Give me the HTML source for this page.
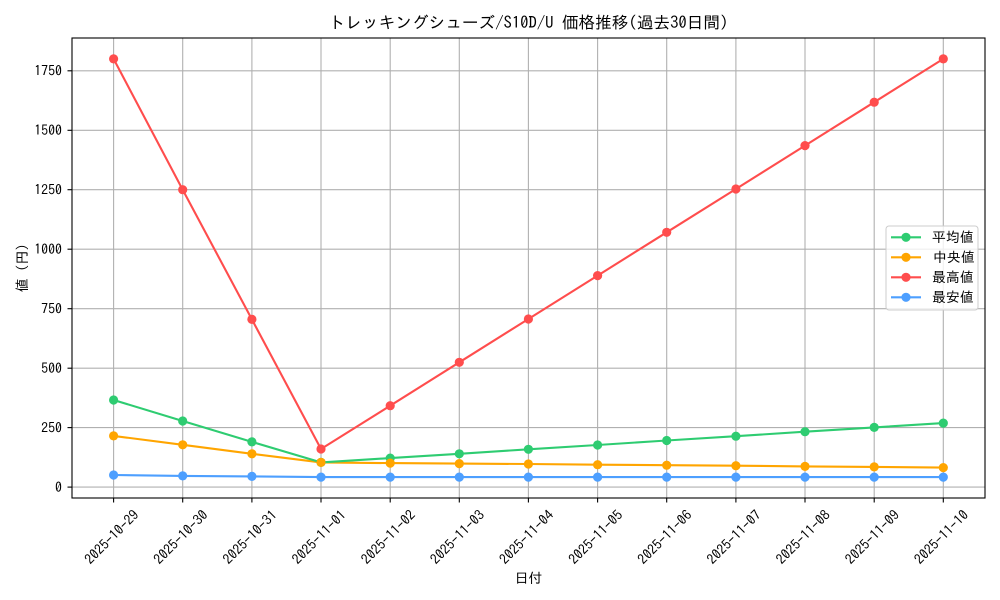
<!DOCTYPE html>
<html><head><meta charset="utf-8"><style>
html,body{margin:0;padding:0;background:#fff;}
svg{display:block;}
text{font-family:"IPAGothic","Liberation Sans","Noto Sans CJK JP",sans-serif;fill:#000;}
</style></head><body>
<svg width="1000" height="600" viewBox="0 0 1000 600" xmlns="http://www.w3.org/2000/svg">
<rect width="1000" height="600" fill="#fff"/>
<!-- grid -->
<g stroke="#b0b0b0" stroke-width="1.1">
<line x1="72" y1="487.1" x2="985" y2="487.1"/>
<line x1="72" y1="427.6" x2="985" y2="427.6"/>
<line x1="72" y1="368.2" x2="985" y2="368.2"/>
<line x1="72" y1="308.7" x2="985" y2="308.7"/>
<line x1="72" y1="249.2" x2="985" y2="249.2"/>
<line x1="72" y1="189.7" x2="985" y2="189.7"/>
<line x1="72" y1="130.3" x2="985" y2="130.3"/>
<line x1="72" y1="70.8" x2="985" y2="70.8"/>
<line x1="113.6" y1="38" x2="113.6" y2="498"/>
<line x1="182.7" y1="38" x2="182.7" y2="498"/>
<line x1="251.9" y1="38" x2="251.9" y2="498"/>
<line x1="321.0" y1="38" x2="321.0" y2="498"/>
<line x1="390.2" y1="38" x2="390.2" y2="498"/>
<line x1="459.3" y1="38" x2="459.3" y2="498"/>
<line x1="528.4" y1="38" x2="528.4" y2="498"/>
<line x1="597.6" y1="38" x2="597.6" y2="498"/>
<line x1="666.7" y1="38" x2="666.7" y2="498"/>
<line x1="735.9" y1="38" x2="735.9" y2="498"/>
<line x1="805.0" y1="38" x2="805.0" y2="498"/>
<line x1="874.2" y1="38" x2="874.2" y2="498"/>
<line x1="943.3" y1="38" x2="943.3" y2="498"/>
</g>
<!-- series -->
<g fill="none" stroke-width="2.1" stroke-linejoin="round">
<polyline stroke="#4d9fff" points="113.6,475.0 182.7,475.9 251.9,476.4 321.0,477.1 390.2,477.1 459.3,477.1 528.4,477.1 597.6,477.1 666.7,477.1 735.9,477.1 805.0,477.1 874.2,477.1 943.3,477.1"/>
<polyline stroke="#ff4d4d" points="113.6,58.9 182.7,189.7 251.9,319.4 321.0,449.0 390.2,405.7 459.3,362.3 528.4,319.0 597.6,275.6 666.7,232.3 735.9,189.0 805.0,145.6 874.2,102.2 943.3,58.9"/>
<polyline stroke="#ffa500" points="113.6,435.9 182.7,444.8 251.9,453.8 321.0,462.4 390.2,463.1 459.3,463.6 528.4,464.0 597.6,464.7 666.7,465.2 735.9,465.7 805.0,466.4 874.2,466.9 943.3,467.6"/>
<polyline stroke="#2ecc71" points="113.6,400.0 182.7,421.0 251.9,441.9 321.0,462.4 390.2,458.1 459.3,453.8 528.4,449.3 597.6,445.0 666.7,440.5 735.9,436.2 805.0,431.7 874.2,427.4 943.3,423.1"/>
</g>
<g fill="#2ecc71">
<circle cx="113.6" cy="400.0" r="4.6"/><circle cx="182.7" cy="421.0" r="4.6"/><circle cx="251.9" cy="441.9" r="4.6"/><circle cx="321.0" cy="462.4" r="4.6"/><circle cx="390.2" cy="458.1" r="4.6"/><circle cx="459.3" cy="453.8" r="4.6"/><circle cx="528.4" cy="449.3" r="4.6"/><circle cx="597.6" cy="445.0" r="4.6"/><circle cx="666.7" cy="440.5" r="4.6"/><circle cx="735.9" cy="436.2" r="4.6"/><circle cx="805.0" cy="431.7" r="4.6"/><circle cx="874.2" cy="427.4" r="4.6"/><circle cx="943.3" cy="423.1" r="4.6"/>
</g>
<g fill="#ffa500">
<circle cx="113.6" cy="435.9" r="4.6"/><circle cx="182.7" cy="444.8" r="4.6"/><circle cx="251.9" cy="453.8" r="4.6"/><circle cx="321.0" cy="462.4" r="4.6"/><circle cx="390.2" cy="463.1" r="4.6"/><circle cx="459.3" cy="463.6" r="4.6"/><circle cx="528.4" cy="464.0" r="4.6"/><circle cx="597.6" cy="464.7" r="4.6"/><circle cx="666.7" cy="465.2" r="4.6"/><circle cx="735.9" cy="465.7" r="4.6"/><circle cx="805.0" cy="466.4" r="4.6"/><circle cx="874.2" cy="466.9" r="4.6"/><circle cx="943.3" cy="467.6" r="4.6"/>
</g>
<g fill="#ff4d4d">
<circle cx="113.6" cy="58.9" r="4.6"/><circle cx="182.7" cy="189.7" r="4.6"/><circle cx="251.9" cy="319.4" r="4.6"/><circle cx="321.0" cy="449.0" r="4.6"/><circle cx="390.2" cy="405.7" r="4.6"/><circle cx="459.3" cy="362.3" r="4.6"/><circle cx="528.4" cy="319.0" r="4.6"/><circle cx="597.6" cy="275.6" r="4.6"/><circle cx="666.7" cy="232.3" r="4.6"/><circle cx="735.9" cy="189.0" r="4.6"/><circle cx="805.0" cy="145.6" r="4.6"/><circle cx="874.2" cy="102.2" r="4.6"/><circle cx="943.3" cy="58.9" r="4.6"/>
</g>
<g fill="#4d9fff">
<circle cx="113.6" cy="475.0" r="4.6"/><circle cx="182.7" cy="475.9" r="4.6"/><circle cx="251.9" cy="476.4" r="4.6"/><circle cx="321.0" cy="477.1" r="4.6"/><circle cx="390.2" cy="477.1" r="4.6"/><circle cx="459.3" cy="477.1" r="4.6"/><circle cx="528.4" cy="477.1" r="4.6"/><circle cx="597.6" cy="477.1" r="4.6"/><circle cx="666.7" cy="477.1" r="4.6"/><circle cx="735.9" cy="477.1" r="4.6"/><circle cx="805.0" cy="477.1" r="4.6"/><circle cx="874.2" cy="477.1" r="4.6"/><circle cx="943.3" cy="477.1" r="4.6"/>
</g>
<!-- axes frame -->
<rect x="72" y="38" width="913" height="460" fill="none" stroke="#000" stroke-width="1.1"/>
<!-- ticks -->
<g stroke="#000" stroke-width="1.1">
<line x1="67.5" y1="487.1" x2="72" y2="487.1"/>
<line x1="67.5" y1="427.6" x2="72" y2="427.6"/>
<line x1="67.5" y1="368.2" x2="72" y2="368.2"/>
<line x1="67.5" y1="308.7" x2="72" y2="308.7"/>
<line x1="67.5" y1="249.2" x2="72" y2="249.2"/>
<line x1="67.5" y1="189.7" x2="72" y2="189.7"/>
<line x1="67.5" y1="130.3" x2="72" y2="130.3"/>
<line x1="67.5" y1="70.8" x2="72" y2="70.8"/>
<line x1="113.6" y1="498" x2="113.6" y2="502.5"/>
<line x1="182.7" y1="498" x2="182.7" y2="502.5"/>
<line x1="251.9" y1="498" x2="251.9" y2="502.5"/>
<line x1="321.0" y1="498" x2="321.0" y2="502.5"/>
<line x1="390.2" y1="498" x2="390.2" y2="502.5"/>
<line x1="459.3" y1="498" x2="459.3" y2="502.5"/>
<line x1="528.4" y1="498" x2="528.4" y2="502.5"/>
<line x1="597.6" y1="498" x2="597.6" y2="502.5"/>
<line x1="666.7" y1="498" x2="666.7" y2="502.5"/>
<line x1="735.9" y1="498" x2="735.9" y2="502.5"/>
<line x1="805.0" y1="498" x2="805.0" y2="502.5"/>
<line x1="874.2" y1="498" x2="874.2" y2="502.5"/>
<line x1="943.3" y1="498" x2="943.3" y2="502.5"/>
</g>
<!-- y tick labels -->
<g font-size="13.9" text-anchor="end">
<text x="62" y="492">0</text>
<text x="62" y="432.5">250</text>
<text x="62" y="373">500</text>
<text x="62" y="313.6">750</text>
<text x="62" y="254.1">1000</text>
<text x="62" y="194.6">1250</text>
<text x="62" y="135.2">1500</text>
<text x="62" y="75.7">1750</text>
</g>
<!-- x tick labels -->
<g font-size="13.9" text-anchor="middle" dominant-baseline="central">
<text transform="translate(111.6,537) rotate(-45)">2025-10-29</text>
<text transform="translate(180.7,537) rotate(-45)">2025-10-30</text>
<text transform="translate(249.9,537) rotate(-45)">2025-10-31</text>
<text transform="translate(319.0,537) rotate(-45)">2025-11-01</text>
<text transform="translate(388.2,537) rotate(-45)">2025-11-02</text>
<text transform="translate(457.3,537) rotate(-45)">2025-11-03</text>
<text transform="translate(526.4,537) rotate(-45)">2025-11-04</text>
<text transform="translate(595.6,537) rotate(-45)">2025-11-05</text>
<text transform="translate(664.7,537) rotate(-45)">2025-11-06</text>
<text transform="translate(733.9,537) rotate(-45)">2025-11-07</text>
<text transform="translate(803.0,537) rotate(-45)">2025-11-08</text>
<text transform="translate(872.2,537) rotate(-45)">2025-11-09</text>
<text transform="translate(941.3,537) rotate(-45)">2025-11-10</text>
</g>
<!-- axis labels -->
<text x="528.5" y="583" font-size="13.9" text-anchor="middle">日付</text>
<text transform="translate(27,268) rotate(-90)" font-size="13.9" text-anchor="middle">値 (円)</text>
<!-- title -->
<text x="528.5" y="28.5" font-size="16.67" text-anchor="middle">トレッキングシューズ/S10D/U 価格推移(過去30日間)</text>
<!-- legend -->
<rect x="886" y="226" width="92" height="84" rx="3" ry="3" fill="#fff" fill-opacity="0.8" stroke="#cccccc" stroke-width="1"/>
<g stroke-width="2.1">
<line x1="891" y1="237.3" x2="921" y2="237.3" stroke="#2ecc71"/>
<line x1="891" y1="257.3" x2="921" y2="257.3" stroke="#ffa500"/>
<line x1="891" y1="277.3" x2="921" y2="277.3" stroke="#ff4d4d"/>
<line x1="891" y1="297.3" x2="921" y2="297.3" stroke="#4d9fff"/>
</g>
<circle cx="906" cy="237.3" r="4.6" fill="#2ecc71"/>
<circle cx="906" cy="257.3" r="4.6" fill="#ffa500"/>
<circle cx="906" cy="277.3" r="4.6" fill="#ff4d4d"/>
<circle cx="906" cy="297.3" r="4.6" fill="#4d9fff"/>
<g font-size="13.9">
<text x="932" y="242.2">平均値</text>
<text x="933" y="262.2">中央値</text>
<text x="932" y="282.2">最高値</text>
<text x="932" y="302.2">最安値</text>
</g>
</svg>
</body></html>
